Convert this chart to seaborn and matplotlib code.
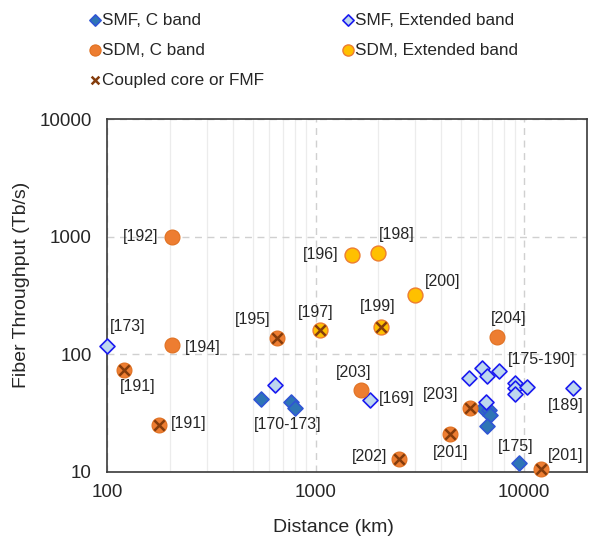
import matplotlib
matplotlib.use("Agg")
import matplotlib.pyplot as plt
import seaborn as sns
import pandas as pd
from matplotlib.ticker import LogLocator, FuncFormatter, NullFormatter

# Values: distance (km) and fiber throughput (Tb/s)
smf_c_km = [550, 760, 800, 9400, 6330, 6800, 6870, 6640]
smf_c_tbps = [42, 39, 35, 12, 35, 33.5, 30.5, 24.5]

smf_ext_km = [100, 640, 1820, 5460, 6260, 6640, 7610, 9080, 9080, 9080, 10300, 6570, 17150]
smf_ext_tbps = [117, 55, 41, 63.5, 77, 65, 72, 57.5, 52, 46, 53, 39.5, 52]

sdm_c_km = [205, 205, 1650, 7400, 120, 178, 650, 5500, 4400, 2500, 12000]
sdm_c_tbps = [1000, 120, 50, 140, 74, 25, 138, 35, 21, 12.8, 10.7]
sdm_c_coupled = [False, False, False, False, True, True, True, True, True, True, True]

sdm_ext_km = [1500, 2000, 3000, 1050, 2050]
sdm_ext_tbps = [700, 730, 320, 160, 172]
sdm_ext_coupled = [False, False, False, True, True]

# reference tags and the point each one sits next to
ref_text = ["[192]", "[194]", "[173]", "[191]", "[191]", "[195]", "[197]", "[170-173]",
            "[196]", "[198]", "[200]", "[199]", "[204]", "[175-190]", "[203]", "[169]",
            "[203]", "[189]", "[202]", "[201]", "[175]", "[201]"]
ref_km = [205, 205, 100, 120, 178, 650, 1050, 760,
          1500, 2000, 3000, 2050, 7400, 9080, 1650, 1820,
          5500, 17150, 2500, 4400, 9400, 12000]
ref_tbps = [1000, 120, 117, 74, 25, 138, 160, 39,
            700, 730, 320, 172, 140, 57.5, 50, 41,
            35, 52, 12.8, 21, 12, 10.7]
# label offsets in pixels
ref_offset = [(-31, 0), (31, -2), (21, 20), (14, -17), (29, 2), (-24, 18), (-4, 18), (-3, -22),
              (-32, 0), (18, 18), (27, 13), (-3, 20), (12, 19), (26, 23), (-7, 17), (27, 1),
              (-29, 13), (-7, -18), (-29, 3), (1, -18), (-3, 16), (25, 13)]

sdm_c = pd.DataFrame({"km": sdm_c_km, "tbps": sdm_c_tbps, "coupled": sdm_c_coupled})
sdm_ext = pd.DataFrame({"km": sdm_ext_km, "tbps": sdm_ext_tbps, "coupled": sdm_ext_coupled})
coupled = pd.concat([sdm_c[sdm_c.coupled], sdm_ext[sdm_ext.coupled]])

sns.set_theme(style="white")
plt.rcParams["font.family"] = ["Liberation Sans", "DejaVu Sans"]

fig = plt.figure(figsize=(5.89, 5.38), dpi=100)
ax = fig.add_axes([0.1817, 0.1227, 0.8149, 0.6561])

sns.scatterplot(x=smf_c_km, y=smf_c_tbps, ax=ax, marker="D", s=58, color="#2E75B6",
                edgecolor="#2F55D4", linewidth=1.2, label="SMF, C band", zorder=3)
sns.scatterplot(x=smf_ext_km, y=smf_ext_tbps, ax=ax, marker="D", s=58, color="#BDD7EE",
                edgecolor="#1A1AF0", linewidth=1.2, label="SMF, Extended band", zorder=3)
sns.scatterplot(data=sdm_c, x="km", y="tbps", ax=ax, marker="o", s=115, color="#ED7D31",
                edgecolor="#E07020", linewidth=0.8, label="SDM, C band", zorder=4)
sns.scatterplot(data=sdm_ext, x="km", y="tbps", ax=ax, marker="o", s=115, color="#FFC000",
                edgecolor="#ED7D31", linewidth=1.0, label="SDM, Extended band", zorder=4)
sns.scatterplot(data=coupled, x="km", y="tbps", ax=ax, marker="x", s=55, color="#843C0C",
                linewidth=1.8, label="Coupled core or FMF", zorder=5)
for coll in ax.collections:
    coll.set_clip_on(False)

for t, xk, yt, off in zip(ref_text, ref_km, ref_tbps, ref_offset):
    ax.annotate(t, (xk, yt), xytext=off, textcoords="offset pixels",
                ha="center", va="center", fontsize=11.5, color="#262626")

ax.set_xscale("log")
ax.set_yscale("log")
ax.set_xlim(100, 20000)
ax.set_ylim(10, 10000)
fmt = FuncFormatter(lambda v, p: f"{v:g}")
ax.xaxis.set_major_formatter(fmt)
ax.yaxis.set_major_formatter(fmt)
ax.xaxis.set_minor_locator(LogLocator(base=10, subs=range(2, 10)))
ax.xaxis.set_minor_formatter(NullFormatter())
ax.yaxis.set_minor_formatter(NullFormatter())
ax.tick_params(which="both", length=0, labelsize=13.5, colors="#262626")
ax.tick_params(axis="x", pad=9)
ax.tick_params(axis="y", pad=11)

ax.grid(which="major", axis="both", ls=(0, (5, 4)), color="#D0D0D0", lw=1)
ax.grid(which="minor", axis="x", ls="-", color="#ECECEC", lw=0.9)
ax.grid(which="minor", axis="y", visible=False)
for sp in ax.spines.values():
    sp.set_color("#3A3A3A")
    sp.set_linewidth(1.2)

ax.set_xlabel("Distance (km)", fontsize=14, color="#262626")
ax.set_ylabel("Fiber Throughput (Tb/s)", fontsize=14, color="#262626")
ax.xaxis.set_label_coords(0.471, -0.133)
ax.yaxis.set_label_coords(-0.16, 0.53)

handles, labels = ax.get_legend_handles_labels()
if ax.get_legend() is not None:
    ax.get_legend().remove()
lookup = dict(zip(labels, handles))
order = ["SMF, C band", "SDM, C band", "Coupled core or FMF", "SMF, Extended band", "SDM, Extended band"]
fig.legend([lookup[k] for k in order], order, loc="upper left", bbox_to_anchor=(0.154, 0.976),
           ncol=2, frameon=False, fontsize=12.3, markerscale=0.75, handlelength=0.5,
           handletextpad=0.17, columnspacing=4.65, labelspacing=0.87, borderpad=0, borderaxespad=0)

fig.savefig("out.png", dpi=100)
